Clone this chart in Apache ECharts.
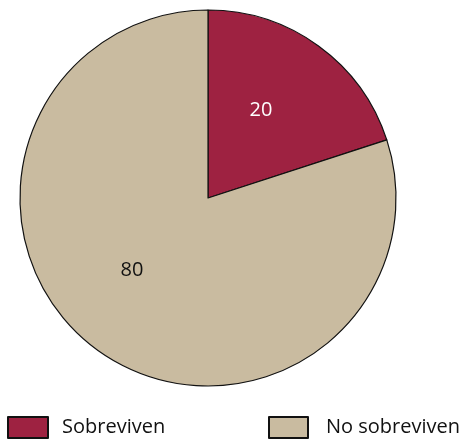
<!DOCTYPE html>
<html><head><meta charset="utf-8">
<script src="https://cdn.jsdelivr.net/npm/echarts@6/dist/echarts.min.js"></script>
<style>html,body{margin:0;padding:0;background:#fff}#c{width:467px;height:441px}</style>
</head><body><div id="c"></div>
<script>
const categories = ['Sobreviven', 'No sobreviven'];
const values = [20, 80];
const colors = ['#9E2241', '#C9BBA0'];
const labelColors = ['#ffffff', '#111111'];

const chart = echarts.init(document.getElementById('c'), null, {renderer: 'canvas'});
const font = '"Open Sans", "Noto Sans", sans-serif';
const labelOffsets = [[-4, -9], [-19, -6]];
chart.setOption({
  animation: false,
  legend: [
    {data: [categories[0]], left: 7, top: 416, padding: 0, itemWidth: 40, itemHeight: 21,
     textStyle: {fontSize: 20, fontFamily: font, color: '#111', padding: [0, 0, 0, 9]}, icon: 'rect', itemGap: 0},
    {data: [categories[1]], left: 268, top: 416, padding: 0, itemWidth: 39, itemHeight: 21,
     textStyle: {fontSize: 20, fontFamily: font, color: '#111', padding: [0, 0, 0, 13]}, icon: 'rect', itemGap: 0}
  ],
  series: [{
    type: 'pie',
    center: [208, 198],
    radius: 188,
    startAngle: 90,
    clockwise: true,
    label: {position: 'inside', fontSize: 20, fontFamily: font},
    labelLine: {show: false},
    emphasis: {disabled: true},
    data: categories.map((n, i) => ({
      name: n, value: values[i],
      itemStyle: {color: colors[i], borderColor: '#111', borderWidth: 1.2},
      label: {color: labelColors[i], formatter: '{c}', offset: labelOffsets[i]}
    }))
  }]
});
</script></body></html>
